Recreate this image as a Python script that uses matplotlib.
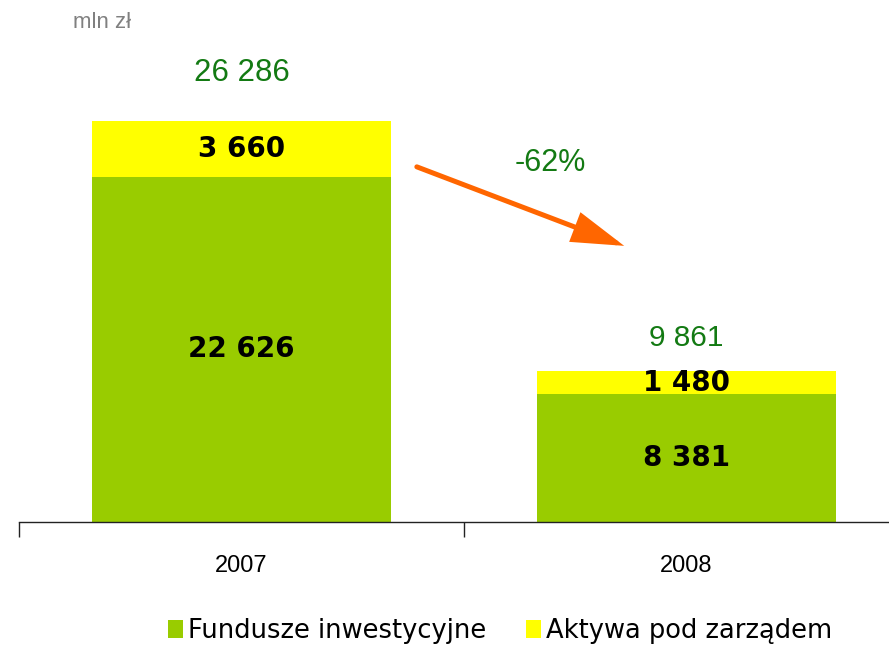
import matplotlib
matplotlib.use("Agg")
import matplotlib.pyplot as plt
from matplotlib.patches import Patch

# data (mln zł)
years = ["2007", "2008"]
fundusze = [22626, 8381]
aktywa = [3660, 1480]
totals = [26286, 9861]
change_label = "-62%"

green = "#99cc00"
yellow = "#ffff00"
dark_green = "#137a13"
orange = "#ff6600"


def fmt(v):
    return f"{v:,}".replace(",", " ")


fig = plt.figure(figsize=(8.89, 6.47), dpi=100)
# axes run slightly past the right edge, like the original slide
ax = fig.add_axes([19 / 889, 0.1932, 890 / 889, 0.7079])

x = list(range(len(years)))
ax.bar(x, fundusze, width=0.67, color=green, linewidth=0)
ax.bar(x, aktywa, width=0.67, bottom=fundusze, color=yellow, linewidth=0)

ax.set_xlim(-0.5, 1.5)
ax.set_ylim(0, 30000)

for s in ["left", "top", "right"]:
    ax.spines[s].set_visible(False)
ax.spines["bottom"].set_color("#222222")
ax.spines["bottom"].set_linewidth(1.0)
ax.set_yticks([])

ax.set_xticks(x)
ax.set_xticklabels(years, fontsize=17, family="Liberation Sans")
ax.tick_params(axis="x", which="major", length=0, pad=24)
ax.set_xticks([-0.5, 0.5, 1.5], minor=True)
ax.tick_params(axis="x", which="minor", length=11, width=1.0, color="#222222")

# segment labels
for i in x:
    ax.text(i, fundusze[i] / 2, fmt(fundusze[i]), ha="center", va="center",
            fontsize=20, fontweight="bold", family="DejaVu Sans", color="black")
    ax.text(i, fundusze[i] + aktywa[i] / 2, fmt(aktywa[i]), ha="center", va="center",
            fontsize=20, fontweight="bold", family="DejaVu Sans", color="black")

# totals above bars
offsets = [34, 24]
sizes = [22.5, 21.5]
for i in x:
    ax.annotate(fmt(totals[i]), xy=(i, totals[i]), xytext=(0, offsets[i]),
                textcoords="offset points", ha="center", va="center",
                fontsize=sizes[i], family="Liberation Sans", color=dark_green)

# change arrow
ax.annotate("", xy=(0.86, 18087), xytext=(0.394, 23263),
            arrowprops=dict(arrowstyle="-|>,head_length=1.5,head_width=0.45",
                            lw=3.6, color=orange, shrinkA=0, shrinkB=0,
                            mutation_scale=20, joinstyle="miter"))
ax.text(0.693, 23525, change_label, ha="center", va="center",
        fontsize=22, family="Liberation Sans", color=dark_green)

fig.text(73 / 889, 1 - 22 / 647, "mln zł", ha="left", va="center",
         fontsize=16, family="Liberation Sans", color="#808080")

handles = [Patch(facecolor=green, edgecolor="none"),
           Patch(facecolor=yellow, edgecolor="none")]
fig.legend(handles, ["Fundusze inwestycyjne", "Aktywa pod zarządem"],
           loc="center", bbox_to_anchor=(0.5627, 0.0247), ncol=2,
           frameon=False, borderpad=0, prop={"family": "DejaVu Sans", "size": 18.5},
           handlelength=0.58, handleheight=0.7, handletextpad=0.2,
           columnspacing=1.55)

fig.savefig("out.png", dpi=100)
